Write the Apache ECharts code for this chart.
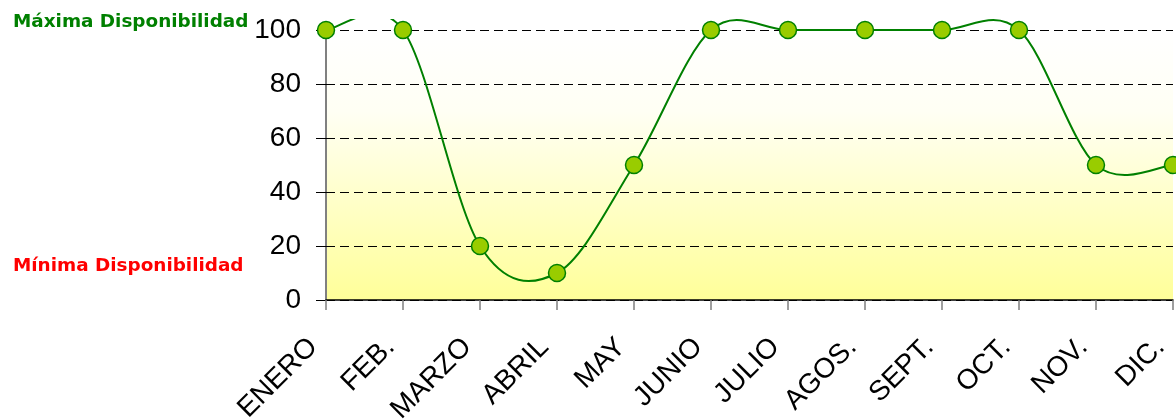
<!DOCTYPE html>
<html>
<head>
<meta charset="utf-8">
<script src="https://cdn.jsdelivr.net/npm/echarts@6/dist/echarts.min.js"></script>
<style>
html,body{margin:0;padding:0;background:#fff;}
#c{width:1176px;height:419px;}
</style>
</head>
<body>
<div id="c"></div>
<script>
const categories = ['ENERO','FEB.','MARZO','ABRIL','MAY','JUNIO','JULIO','AGOS.','SEPT.','OCT.','NOV.','DIC.'];
const disponibilidad = [100,100,20,10,50,100,100,100,100,100,50,50];
const yTicks = [0,20,40,60,80,100];
const maxLabel = 'Máxima Disponibilidad';
const minLabel = 'Mínima Disponibilidad';

const chart = echarts.init(document.getElementById('c'), null, {renderer:'canvas'});

// Excel-style smoothed line (Catmull-Rom style Bezier segments through the data points)
function renderSegment(params, api) {
  const i = params.dataIndex;
  const n = disponibilidad.length;
  if (i >= n - 1) return null;
  const idx = k => Math.max(0, Math.min(n - 1, k));
  const p = k => api.coord([idx(k), disponibilidad[idx(k)]]);
  const p0 = p(i - 1), p1 = p(i), p2 = p(i + 1), p3 = p(i + 2);
  const cp1 = [p1[0] + (p2[0] - p0[0]) / 6, p1[1] + (p2[1] - p0[1]) / 6];
  const cp2 = [p2[0] - (p3[0] - p1[0]) / 6, p2[1] - (p3[1] - p1[1]) / 6];
  return {
    type: 'group',
    clipPath: {type: 'rect', shape: {x: 0, y: 19, width: 1176, height: 400}},
    children: [{
      type: 'bezierCurve',
      shape: {x1: p1[0], y1: p1[1], x2: p2[0], y2: p2[1], cpx1: cp1[0], cpy1: cp1[1], cpx2: cp2[0], cpy2: cp2[1]},
      style: {stroke: '#008000', lineWidth: 2, fill: null}
    }]
  };
}

const option = {
  animation: false,
  backgroundColor: '#ffffff',
  grid: {
    left: 326, right: 3, top: 30, bottom: 119,
    containLabel: false,
    outerBoundsMode: 'none',
    show: true, borderWidth: 0,
    backgroundColor: new echarts.graphic.LinearGradient(0,0,0,1,[
      {offset:0, color:'#FFFFFF'},
      {offset:0.3, color:'#FFFFF4'},
      {offset:1, color:'#FFFF99'}
    ])
  },
  xAxis: {
    type: 'category',
    data: categories,
    boundaryGap: false,
    axisLine: {lineStyle:{color:'#000000', width:1.5}},
    axisTick: {show:true, length:10, lineStyle:{color:'#808080', width:1.5}},
    axisLabel: {
      rotate: 45, interval: 0, margin: 30, padding: [0,18,0,0],
      fontFamily: 'Liberation Sans, Arial, sans-serif', fontSize: 28, color: '#000000'
    },
    splitLine: {show:false}
  },
  yAxis: [{
    type: 'value', min: yTicks[0], max: yTicks[yTicks.length-1], interval: 20,
    axisLine: {show:true, lineStyle:{color:'#808080', width:2}},
    axisTick: {show:true, length:10, lineStyle:{color:'#000000', width:1}},
    axisLabel: {margin: 25, fontFamily: 'Liberation Sans, Arial, sans-serif', fontSize: 28, color:'#000000'},
    splitLine: {show:true, lineStyle:{color:'#000000', width:1, type:[9,5]}}
  },{
    type: 'value', min: yTicks[0], max: yTicks[yTicks.length-1], interval: 20, position:'left',
    axisLine: {show:false},
    axisTick: {show:true, inside:true, length:7, lineStyle:{color:'#000000', width:1}},
    axisLabel: {show:false},
    splitLine: {show:false}
  }],
  graphic: [
    {type:'text', x: 13, y: 22, style:{text: maxLabel, fill:'#008000', verticalAlign:'middle', font:'bold 18.4px "DejaVu Sans", Verdana, sans-serif'}},
    {type:'text', x: 13, y: 266, style:{text: minLabel, fill:'#FF0000', verticalAlign:'middle', font:'bold 18.4px "DejaVu Sans", Verdana, sans-serif'}}
  ],
  series: [{
    type: 'custom',
    data: disponibilidad.map((v, i) => [i, v]),
    renderItem: renderSegment,
    clip: false,
    z: 4
  },{
    type: 'scatter',
    data: disponibilidad,
    symbol: 'circle',
    symbolSize: 17,
    itemStyle: {color:'#99CC00', borderColor:'#008000', borderWidth:1.5, opacity: 1},
    z: 5
  }]
};
chart.setOption(option);
</script>
</body>
</html>
